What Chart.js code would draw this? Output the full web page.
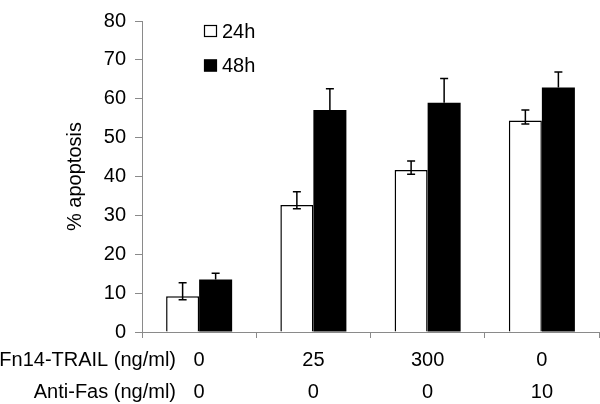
<!DOCTYPE html>
<html>
<head>
<meta charset="utf-8">
<script src="https://cdn.jsdelivr.net/npm/chart.js@4.4.1/dist/chart.umd.min.js"></script>
<style>
  html, body { margin: 0; padding: 0; background: #fff; }
  #wrap { width: 600px; height: 404px; }
</style>
</head>
<body>
<div id="wrap"><canvas id="chart" width="600" height="404"></canvas></div>
<script>
// --- Data ---
const trailDoses = ['0', '25', '300', '0'];
const fasDoses = ['0', '0', '0', '10'];
const rowLabels = ['Fn14-TRAIL (ng/ml)', 'Anti-Fas (ng/ml)'];

const apoptosis24 = [9.2, 32.7, 41.7, 54.4];
const apoptosis48 = [13.5, 57.1, 59.0, 62.9];
const err24Up = [3.5, 3.4, 2.3, 2.7];
const err24Down = [0.9, 1.0, 1.1, 0.9];
const err48Up = [1.6, 5.5, 6.2, 4.0];
const err48Down = [0, 0, 0, 0];

const yTicks = [0, 10, 20, 30, 40, 50, 60, 70, 80];

const FONT = 'Liberation Sans, Arial, Helvetica, sans-serif';
const FONT_SIZE = 20;
const AXIS_GREY = '#8a8a8a';
const TICK_LEN_X = 6;
const TICK_PAD_X = 6;
const LINE_H = 1.6;

// --- Plugins ---
const errorBars = {
  id: 'errorBars',
  afterDatasetsDraw(chart) {
    const ctx = chart.ctx;
    const y = chart.scales.y;
    chart.data.datasets.forEach((ds, di) => {
      const meta = chart.getDatasetMeta(di);
      meta.data.forEach((bar, i) => {
        const v = ds.data[i];
        const top = y.getPixelForValue(v + ds.errUp[i]);
        const bot = y.getPixelForValue(v - ds.errDown[i]);
        ctx.save();
        ctx.strokeStyle = '#000';
        ctx.lineWidth = 1.5;
        ctx.beginPath();
        ctx.moveTo(bar.x, top);
        ctx.lineTo(bar.x, bot);
        ctx.moveTo(bar.x - 4, top);
        ctx.lineTo(bar.x + 4, top);
        if (ds.errDown[i] > 0) {
          ctx.moveTo(bar.x - 4, bot);
          ctx.lineTo(bar.x + 4, bot);
        }
        ctx.stroke();
        ctx.restore();
      });
    });
  }
};

const rowTitles = {
  id: 'rowTitles',
  afterDraw(chart) {
    const ctx = chart.ctx;
    const x = chart.scales.x;
    const lh = FONT_SIZE * LINE_H;
    ctx.save();
    ctx.font = FONT_SIZE + 'px ' + FONT;
    ctx.fillStyle = '#000';
    ctx.textAlign = 'right';
    ctx.textBaseline = 'middle';
    rowLabels.forEach((t, i) => {
      ctx.fillText(t, 176, x.top + TICK_LEN_X + TICK_PAD_X + lh * (i + 0.5));
    });
    ctx.restore();
  }
};

const boxLegend = {
  id: 'boxLegend',
  afterDraw(chart) {
    const ctx = chart.ctx;
    ctx.save();
    ctx.font = FONT_SIZE + 'px ' + FONT;
    ctx.textBaseline = 'middle';
    ctx.textAlign = 'left';
    chart.data.datasets.forEach((ds, i) => {
      const cy = 31 + i * 34.5;
      ctx.fillStyle = ds.backgroundColor;
      ctx.fillRect(204, cy - 6, 13, 12);
      ctx.strokeStyle = '#000';
      ctx.lineWidth = 1.2;
      ctx.strokeRect(204.5, cy - 5.5, 12, 11);
      ctx.fillStyle = '#000';
      ctx.fillText(ds.label, 222, cy + 1);
    });
    ctx.restore();
  }
};

// --- Chart ---
new Chart(document.getElementById('chart'), {
  type: 'bar',
  data: {
    labels: trailDoses.map((d, i) => [d, fasDoses[i]]),
    datasets: [
      {
        label: '24h',
        data: apoptosis24,
        errUp: err24Up,
        errDown: err24Down,
        backgroundColor: '#ffffff',
        borderColor: '#000000',
        borderWidth: 1.5,
        borderSkipped: 'bottom'
      },
      {
        label: '48h',
        data: apoptosis48,
        errUp: err48Up,
        errDown: err48Down,
        backgroundColor: '#000000',
        borderColor: '#000000',
        borderWidth: 0
      }
    ]
  },
  options: {
    responsive: false,
    animation: false,
    events: [],
    categoryPercentage: 0.578,
    barPercentage: 1,
    layout: { padding: { top: 13, right: 1, left: 0, bottom: 0 } },
    plugins: {
      legend: { display: false },
      tooltip: { enabled: false }
    },
    scales: {
      x: {
        offset: true,
        grid: { drawOnChartArea: false, color: AXIS_GREY, tickLength: TICK_LEN_X, offset: true },
        border: { color: AXIS_GREY, width: 1 },
        ticks: {
          color: '#000',
          padding: TICK_PAD_X,
          maxRotation: 0,
          autoSkip: false,
          font: { family: FONT, size: FONT_SIZE, lineHeight: LINE_H }
        },
        afterFit: s => { s.height = 72; }
      },
      y: {
        min: 0,
        max: 80,
        afterBuildTicks: s => { s.ticks = yTicks.map(v => ({ value: v })); },
        grid: { drawOnChartArea: false, color: AXIS_GREY, tickLength: 7 },
        border: { color: AXIS_GREY, width: 1 },
        ticks: {
          color: '#000',
          padding: 9,
          font: { family: FONT, size: FONT_SIZE }
        },
        title: {
          display: true,
          text: '% apoptosis',
          color: '#000',
          font: { family: FONT, size: FONT_SIZE },
          padding: { top: 63, bottom: 0 }
        },
        afterFit: s => { s.width = 142; }
      }
    }
  },
  plugins: [errorBars, rowTitles, boxLegend]
});
</script>
</body>
</html>
